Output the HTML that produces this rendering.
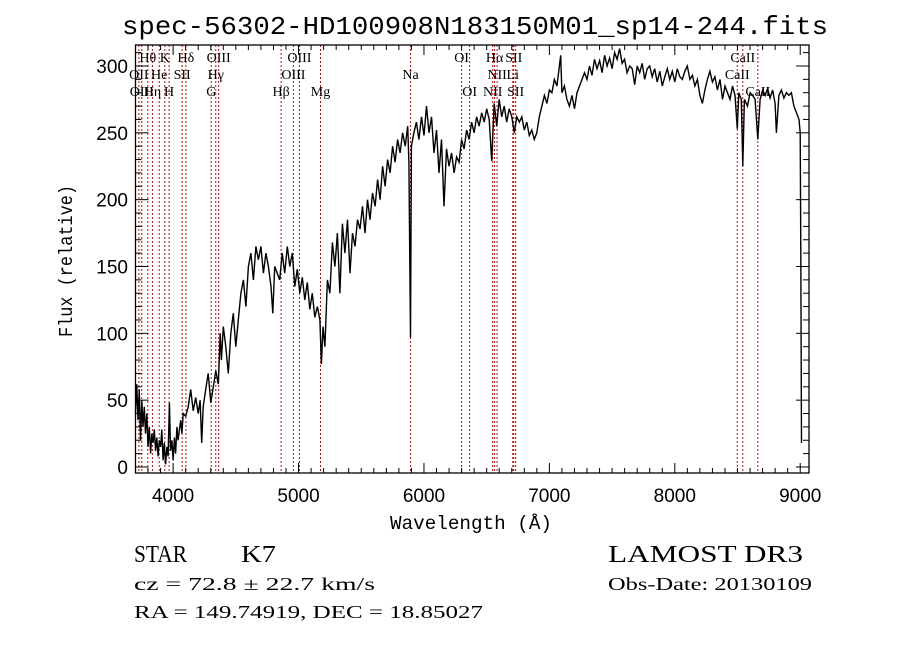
<!DOCTYPE html>
<html><head><meta charset="utf-8"><style>
html,body{margin:0;padding:0;background:#fff;}
svg{display:block;}
</style></head><body>
<svg id="chart" width="900" height="649" viewBox="0 0 900 649" xmlns="http://www.w3.org/2000/svg">
<rect x="0" y="0" width="900" height="649" fill="#fff"/>
<text x="475" y="34" font-family="Liberation Mono, monospace" font-size="26" text-anchor="middle" textLength="706" lengthAdjust="spacingAndGlyphs">spec-56302-HD100908N183150M01_sp14-244.fits</text>
<g id="lines"></g>
<g id="labels"></g>
<path id="spec" fill="none" stroke="#000" stroke-width="1.4" stroke-linejoin="miter"/>
<g id="axes"></g>
<text x="0" y="0" transform="translate(72,261) rotate(-90)" font-family="Liberation Mono, monospace" font-size="19" text-anchor="middle" textLength="152" lengthAdjust="spacingAndGlyphs">Flux (relative)</text>
<text x="471" y="529" font-family="Liberation Mono, monospace" font-size="19" text-anchor="middle" textLength="162" lengthAdjust="spacingAndGlyphs">Wavelength (Å)</text>
<text x="134" y="562" font-family="Liberation Serif, serif" font-size="24" textLength="53" lengthAdjust="spacingAndGlyphs">STAR</text>
<text x="241" y="562" font-family="Liberation Serif, serif" font-size="24" textLength="35" lengthAdjust="spacingAndGlyphs">K7</text>
<text x="608" y="562" font-family="Liberation Serif, serif" font-size="24" textLength="195" lengthAdjust="spacingAndGlyphs">LAMOST DR3</text>
<text x="134" y="590" font-family="Liberation Serif, serif" font-size="18" textLength="241" lengthAdjust="spacingAndGlyphs">cz = 72.8 ± 22.7 km/s</text>
<text x="608" y="590" font-family="Liberation Serif, serif" font-size="18" textLength="204" lengthAdjust="spacingAndGlyphs">Obs-Date: 20130109</text>
<text x="134" y="618" font-family="Liberation Serif, serif" font-size="18" textLength="349" lengthAdjust="spacingAndGlyphs">RA = 149.74919, DEC = 18.85027</text>
</svg>
<script>
const wavelengths = [3700,3710,3720,3730,3740,3750,3760,3770,3780,3790,3800,3810,3820,3830,3840,3850,3860,3870,3880,3890,3900,3910,3920,3930,3940,3950,3960,3970,3980,3990,4000,4010,4020,4030,4040,4050,4060,4070,4080,4100,4120,4140,4160,4180,4200,4215,4228,4240,4260,4280,4300,4320,4340,4360,4375,4385,4400,4420,4440,4460,4480,4500,4520,4540,4560,4580,4600,4620,4640,4660,4680,4700,4720,4740,4760,4780,4795,4810,4830,4850,4870,4890,4910,4930,4950,4970,4990,5010,5030,5050,5070,5090,5110,5130,5150,5170,5182,5195,5210,5230,5250,5270,5290,5310,5330,5350,5370,5390,5410,5430,5450,5470,5490,5510,5530,5550,5570,5590,5610,5630,5650,5670,5690,5710,5730,5750,5770,5790,5810,5830,5850,5870,5880,5893,5900,5920,5940,5960,5980,6000,6020,6040,6060,6080,6100,6120,6140,6160,6180,6200,6220,6240,6260,6280,6300,6320,6340,6360,6380,6400,6420,6440,6460,6480,6500,6520,6540,6560,6580,6600,6620,6640,6660,6680,6700,6720,6740,6760,6780,6800,6820,6840,6860,6880,6900,6920,6940,6960,6980,7000,7020,7040,7060,7080,7090,7100,7120,7140,7160,7180,7200,7220,7240,7260,7280,7300,7320,7340,7360,7380,7400,7420,7440,7460,7480,7500,7520,7540,7560,7580,7600,7620,7640,7660,7680,7700,7720,7740,7760,7780,7800,7820,7840,7860,7880,7900,7920,7940,7960,7980,8000,8020,8040,8060,8080,8100,8120,8140,8160,8180,8200,8220,8240,8260,8280,8300,8320,8340,8360,8380,8400,8420,8440,8460,8480,8498,8510,8530,8542,8555,8580,8600,8620,8640,8662,8680,8700,8720,8740,8760,8780,8800,8810,8830,8850,8870,8890,8910,8930,8950,8970,8990,9000,9005,9010];
const fluxValues = [40,62,35,58,20,50,30,45,25,40,15,30,10,25,18,28,12,22,8,20,15,28,5,18,2,15,8,48,12,20,5,22,10,30,20,28,35,25,40,38,45,58,42,52,40,50,18,45,58,70,48,60,72,62,100,80,105,90,70,100,115,90,110,130,140,120,150,160,140,165,155,165,145,160,150,135,115,150,145,140,160,145,165,150,160,135,148,130,142,125,138,118,130,112,120,110,77,105,90,140,130,168,150,175,130,182,160,185,145,175,165,185,178,195,175,200,185,205,195,215,200,225,210,230,220,240,228,245,235,250,240,255,228,97,240,250,258,245,262,248,270,250,262,235,252,220,245,195,238,225,235,220,232,228,245,238,252,245,258,250,262,255,265,258,268,260,229,272,255,275,262,270,258,268,262,250,262,258,262,252,258,248,252,245,250,262,270,278,272,282,280,290,285,300,308,280,285,275,270,278,268,280,285,290,295,290,300,293,305,298,304,295,308,300,306,298,310,305,313,302,305,295,300,298,286,300,295,302,290,298,300,292,298,288,296,285,292,298,290,296,288,298,292,290,296,300,290,293,285,290,278,272,282,290,296,288,292,282,290,275,285,280,275,285,278,253,280,275,225,275,270,280,278,275,245,275,282,278,283,276,282,272,250,278,282,276,280,278,280,270,265,260,250,160,18];
const lineWaves = [3727,3750,3798,3835,3889,3934,3968,4072,4102,4304,4340,4363,4861,4959,5007,5175,5893,6300,6364,6548,6563,6583,6708,6716,6731,8498,8542,8662];
const labelTexts = ["Hθ","K","Hδ","OIII","OIII","OI","Hα","SII","CaII","OII","He","SII","Hγ","OIII","Na","NII","Li","CaII","OIII","Hη","H","G","Hβ","Mg","OI","NII","SII","CaII"];
const labelWaves = [3798,3934,4102,4363,5007,6300,6563,6716,8542,3727,3889,4072,4340,4959,5893,6583,6708,8498,3750,3835,3968,4304,4861,5175,6364,6548,6731,8662];
const labelRows = [0,0,0,0,0,0,0,0,0,1,1,1,1,1,1,1,1,1,2,2,2,2,2,2,2,2,2,2];
const xTicks = [4000,5000,6000,7000,8000,9000];
const yTicks = [0,50,100,150,200,250,300];

const NS = "http://www.w3.org/2000/svg";
const L = 135.5, R = 809, T = 45, B = 473;
const xMin = 3700, xMax = 9070, yMin = -4.5, yMax = 315.7;
function xs(w){ return L + (w - xMin) / (xMax - xMin) * (R - L); }
function ys(f){ return B - (f - yMin) / (yMax - yMin) * (B - T); }
function mk(tag, attrs, parent){
  const e = document.createElementNS(NS, tag);
  for (const k in attrs) e.setAttribute(k, attrs[k]);
  parent.appendChild(e);
  return e;
}

const lg = document.getElementById('lines');
lineWaves.forEach(w => {
  const ln = mk('line', {x1: xs(w), x2: xs(w), y1: T, y2: B, stroke: '#b01010', 'stroke-width': 1, 'stroke-dasharray': '2,2'}, lg);
  
  
});
const lbg = document.getElementById('labels');
const rowY = [62, 79, 96];
labelTexts.forEach((t, i) => {
  const tx = mk('text', {x: xs(labelWaves[i]), y: rowY[labelRows[i]], 'font-family': 'Liberation Serif, serif', 'font-size': 14, 'text-anchor': 'middle'}, lbg);
  tx.textContent = t;
  
  
});

let d = '';
wavelengths.forEach((w, i) => { d += (i ? 'L' : 'M') + xs(w).toFixed(1) + ' ' + ys(fluxValues[i]).toFixed(1); });
document.getElementById('spec').setAttribute('d', d);

const ag = document.getElementById('axes');
const frame = mk('rect', {x: L, y: T, width: R - L, height: B - T, fill: 'none', stroke: '#000', 'stroke-width': 1.3}, ag);


for (let w = 3700; w <= 9070; w += 100) {
  const major = (w % 1000 === 0);
  const len = major ? 10 : 5;
  mk('line', {x1: xs(w), x2: xs(w), y1: B, y2: B - len, stroke: '#000', 'stroke-width': 1}, ag);
  mk('line', {x1: xs(w), x2: xs(w), y1: T, y2: T + len, stroke: '#000', 'stroke-width': 1}, ag);
}
for (let f = 0; f <= 310; f += 10) {
  const major = (f % 50 === 0);
  const len = major ? 13 : 6;
  mk('line', {x1: L, x2: L + len, y1: ys(f), y2: ys(f), stroke: '#000', 'stroke-width': 1}, ag);
  mk('line', {x1: R, x2: R - len, y1: ys(f), y2: ys(f), stroke: '#000', 'stroke-width': 1}, ag);
}
xTicks.forEach(w => {
  const t = mk('text', {x: xs(w), y: B + 29, 'font-family': 'Liberation Sans, sans-serif', 'font-size': 19, 'text-anchor': 'middle'}, ag);
  t.textContent = w;
  
  
});
yTicks.forEach(f => {
  const t = mk('text', {x: 128, y: ys(f) + 7, 'font-family': 'Liberation Sans, sans-serif', 'font-size': 19, 'text-anchor': 'end'}, ag);
  t.textContent = f;
  
  
});
</script>
</body></html>
